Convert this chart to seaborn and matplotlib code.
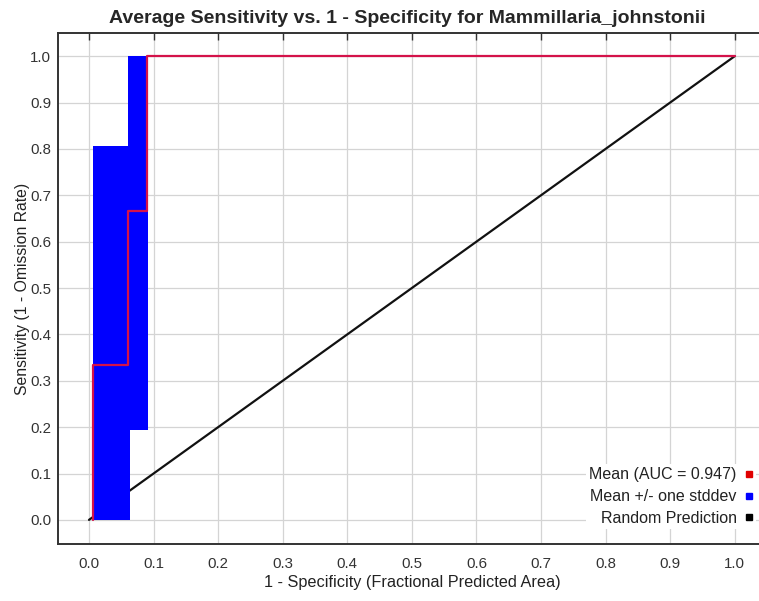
import matplotlib
matplotlib.use("Agg")
import matplotlib.pyplot as plt
import seaborn as sns
import numpy as np
from matplotlib.lines import Line2D

sns.set_theme(style="white")
plt.rcParams['font.family'] = ['Liberation Sans', 'DejaVu Sans']

# Mean ROC (step curve)
mean_x = [0.006, 0.006, 0.061, 0.061, 0.090, 0.090, 1.0]
mean_y = [0.0, 0.333, 0.333, 0.667, 0.667, 1.0, 1.0]

# +/- one stddev band (step, post)
band_x = [0.006, 0.060, 0.064, 0.091]
band_upper = [0.806, 1.0, 1.0, 1.0]
band_lower = [0.0, 0.0, 0.194, 0.194]

# Random prediction
rand_x = [0.0, 1.0]
rand_y = [0.0, 1.0]

ticks = [0.0, 0.1, 0.2, 0.3, 0.4, 0.5, 0.6, 0.7, 0.8, 0.9, 1.0]
tick_labels = ["0.0", "0.1", "0.2", "0.3", "0.4", "0.5", "0.6", "0.7", "0.8", "0.9", "1.0"]

RED = "#d4124a"
BLUE = "#0000ff"
BLACK = "#111111"

fig = plt.figure(figsize=(7.59, 6.01), dpi=100)
ax = fig.add_axes([58/759, (601-544)/601, (767-58)/759, (544-33)/601])

sns.lineplot(x=rand_x, y=rand_y, ax=ax, color=BLACK, linewidth=1.6,
             estimator=None, sort=False, zorder=2)
ax.fill_between(band_x, band_lower, band_upper, step="post",
                color=BLUE, linewidth=0, zorder=3)
sns.lineplot(x=mean_x, y=mean_y, ax=ax, color=RED, linewidth=1.6,
             estimator=None, sort=False, zorder=4)

ax.set_xlim(-0.048, 1.05)
ax.set_ylim(-0.052, 1.05)
ax.set_xticks(ticks)
ax.set_xticklabels(tick_labels)
ax.set_yticks(ticks)
ax.set_yticklabels(tick_labels)
ax.grid(True, color="#d4d4d4", linewidth=0.9, zorder=0)
ax.set_axisbelow(True)
ax.tick_params(axis="both", direction="in", length=5, width=1, colors="#333333",
               labelsize=10.8, labelcolor="#333333")
ax.tick_params(axis="x", top=True, pad=9)
ax.tick_params(axis="y", pad=5)
for s in ["left", "bottom", "top"]:
    ax.spines[s].set_color("#333333")
    ax.spines[s].set_linewidth(1.4)
ax.spines["right"].set_visible(False)

ax.set_xlabel("1 - Specificity (Fractional Predicted Area)", fontsize=11.7,
              color="#222222", labelpad=3)
ax.set_ylabel("Sensitivity (1 - Omission Rate)", fontsize=11.3,
              color="#222222", labelpad=0)
fig.suptitle("Average Sensitivity vs. 1 - Specificity for Mammillaria_johnstonii",
             x=407/759, y=1-10/601, fontsize=14, fontweight="bold", va="top")

handles = [
    Line2D([], [], marker="s", linestyle="none", color="#e00000", markersize=5),
    Line2D([], [], marker="s", linestyle="none", color=BLUE, markersize=5),
    Line2D([], [], marker="s", linestyle="none", color="black", markersize=5),
]
labels = ["Mean (AUC = 0.947)", "Mean +/- one stddev", "Random Prediction"]
leg = ax.legend(handles, labels, loc="lower right", markerfirst=False,
                frameon=True, fontsize=11.5, handlelength=0.5, handletextpad=0.5,
                labelspacing=0.42, borderpad=0.2,
                bbox_to_anchor=(764/759, (601-537)/601), bbox_transform=fig.transFigure)
leg.get_frame().set_facecolor("white")
leg.get_frame().set_edgecolor("none")
leg.get_frame().set_alpha(1)
for t in leg.get_texts():
    t.set_ha("right")
    t.set_color("#222222")

fig.savefig("out.png", dpi=100, facecolor="white")
